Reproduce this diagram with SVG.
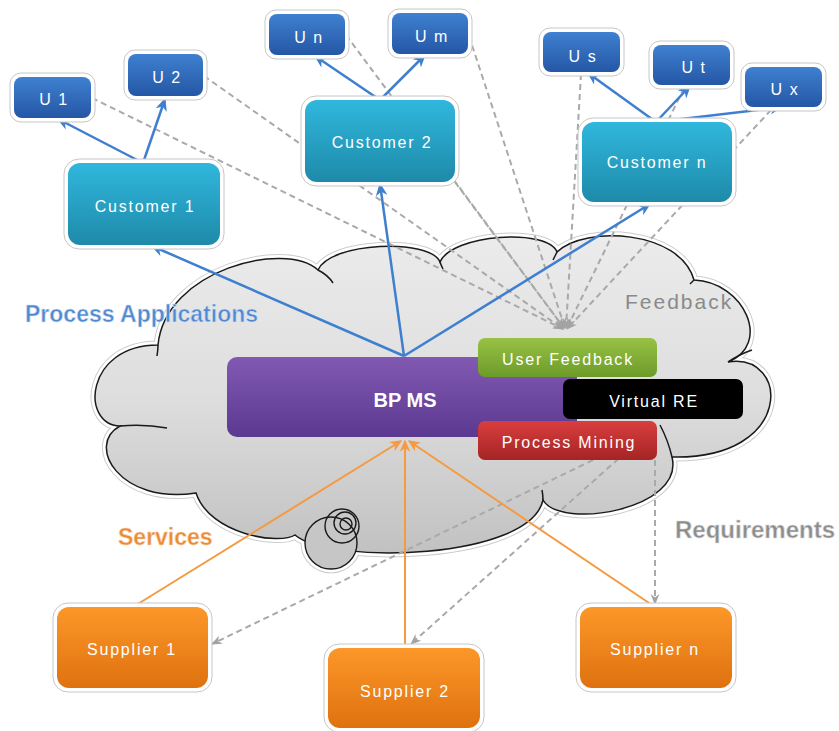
<svg xmlns="http://www.w3.org/2000/svg" width="839" height="731" viewBox="0 0 839 731">
  <style>
    .halo { fill: #ffffff; stroke: #c6c6c6; stroke-width: 1; }
    .lbl { font-family: "Liberation Sans", Arial, sans-serif; fill: #ffffff; font-size: 16px; letter-spacing: 1.8px; text-anchor: middle; }
    .ulbl { font-family: "Liberation Sans", Arial, sans-serif; fill: #ffffff; font-size: 16px; letter-spacing: 1.6px; text-anchor: middle; }
    .blue { stroke: #3f7fcf; stroke-width: 2.5; fill: none; marker-end: url(#arrowBlue); }
    .orange { stroke: #f59a40; stroke-width: 2; fill: none; marker-end: url(#arrowOrange); }
    .fb { stroke: #a9a9a9; stroke-width: 2; stroke-dasharray: 6 4; fill: none; marker-end: url(#arrowGray); }
    .req { stroke: #a9a9a9; stroke-width: 2; stroke-dasharray: 6 4; fill: none; marker-end: url(#arrowGray); }
    .cloudline { fill: none; stroke: #1a1a1a; stroke-width: 1.5; }
  </style>
  <defs>
    <linearGradient id="gU" x1="0" y1="0" x2="0" y2="1"><stop offset="0" stop-color="#3f80d0"/><stop offset="1" stop-color="#2457a5"/></linearGradient>
    <linearGradient id="gC" x1="0" y1="0" x2="0" y2="1"><stop offset="0" stop-color="#30b7dd"/><stop offset="1" stop-color="#1e8aa9"/></linearGradient>
    <linearGradient id="gP" x1="0" y1="0" x2="0" y2="1"><stop offset="0" stop-color="#8259b2"/><stop offset="1" stop-color="#5b3991"/></linearGradient>
    <linearGradient id="gG" x1="0" y1="0" x2="0" y2="1"><stop offset="0" stop-color="#97c245"/><stop offset="1" stop-color="#6d9b29"/></linearGradient>
    <linearGradient id="gR" x1="0" y1="0" x2="0" y2="1"><stop offset="0" stop-color="#d93e3e"/><stop offset="1" stop-color="#a52424"/></linearGradient>
    <linearGradient id="gO" x1="0" y1="0" x2="0" y2="1"><stop offset="0" stop-color="#fc9729"/><stop offset="1" stop-color="#df720f"/></linearGradient>
    <linearGradient id="gCloud" gradientUnits="userSpaceOnUse" x1="0" y1="230" x2="0" y2="560"><stop offset="0" stop-color="#ececec"/><stop offset="0.5" stop-color="#dedede"/><stop offset="1" stop-color="#c0c0c0"/></linearGradient>
    <path id="cloudPath" d="M158,345 C165,270 285,240 318,270 C330,242 430,238 440,262 C452,234 548,228 557,252 C585,225 680,230 694,280 C745,282 772,345 728,362 C790,352 795,460 672,457 C685,510 560,530 543,500 C530,560 330,565 295,535 C280,545 210,535 196,493 C120,505 85,445 120,426 C80,425 85,345 158,345 Z"/>
    <marker id="arrowBlue" markerUnits="userSpaceOnUse" markerWidth="13" markerHeight="13" viewBox="0 0 10 10" refX="9" refY="5" orient="auto">
      <path d="M0,0.5 L10,5 L0,9.5 L3,5 Z" fill="#3f7fcf"/>
    </marker>
    <marker id="arrowOrange" markerUnits="userSpaceOnUse" markerWidth="12" markerHeight="12" viewBox="0 0 10 10" refX="9" refY="5" orient="auto">
      <path d="M0,0.5 L10,5 L0,9.5 L3,5 Z" fill="#f59a40"/>
    </marker>
    <marker id="arrowGray" markerUnits="userSpaceOnUse" markerWidth="11" markerHeight="11" viewBox="0 0 10 10" refX="9" refY="5" orient="auto">
      <path d="M0,1 L10,5 L0,9 L3,5 Z" fill="#a3a3a3"/>
    </marker>
  </defs>

  <rect width="839" height="731" fill="#ffffff"/>

  <!-- cloud backdrop -->
  <g id="cloud">
    <use href="#cloudPath" fill="none" stroke="#cccccc" stroke-width="9" stroke-linejoin="round"/>
    <circle cx="331" cy="543" r="26" fill="none" stroke="#cccccc" stroke-width="9"/>
    <use href="#cloudPath" fill="#ffffff" stroke="#ffffff" stroke-width="7" stroke-linejoin="round"/>
    <circle cx="331" cy="543" r="26" fill="#ffffff" stroke="#ffffff" stroke-width="7"/>
    <use href="#cloudPath" fill="url(#gCloud)" stroke="#1a1a1a" stroke-width="1.5"/>
    <!-- small inner tails where the lobes meet -->
    <path class="cloudline" d="M318,270 Q328,275 333,283"/>
    <path class="cloudline" d="M440,262 Q441,265 443,269"/>
    <path class="cloudline" d="M557,252 Q555,256 553,260"/>
    <path class="cloudline" d="M694,280 Q692,282 690,284"/>
    <path class="cloudline" d="M728,362 Q740,354 752,350"/>
    <path class="cloudline" d="M543,500 Q543,495 542,490"/>
    <path class="cloudline" d="M120,426 Q145,424 167,428"/>
    <path class="cloudline" d="M158,345 Q158,350 157,356"/>
    <path class="cloudline" d="M672,457 Q668,440 660,425"/>
    <!-- thought bubbles -->
    <circle cx="331" cy="543" r="26" fill="#c6c6c6" stroke="#1a1a1a" stroke-width="1.4"/>
    <circle cx="342" cy="526" r="17" fill="none" stroke="#1a1a1a" stroke-width="1.4"/>
    <circle cx="345" cy="523" r="11" fill="none" stroke="#1a1a1a" stroke-width="1.4"/>
    <circle cx="346" cy="524" r="6" fill="none" stroke="#1a1a1a" stroke-width="1.4"/>
  </g>

  <!-- section captions -->
  <g id="captions" font-family="'Liberation Sans', Arial, sans-serif">
    <text x="25" y="322" font-size="23" font-weight="bold" fill="#5088d0" stroke="#d6e3f3" stroke-width="0.6">Process Applications</text>
    <text x="625" y="309" font-size="21" letter-spacing="2" fill="#8a8a8a">Feedback</text>
    <text x="118" y="545" font-size="23" font-weight="bold" fill="#ea8a35" stroke="#f8d9bd" stroke-width="0.6">Services</text>
    <text x="675" y="538" font-size="24" font-weight="bold" fill="#8c8c8c" stroke="#dddddd" stroke-width="0.6">Requirements</text>
  </g>

  <!-- connectors -->
  <g id="connectors">
    <!-- feedback from users and customers into the feedback point -->
    <line class="fb" x1="92" y1="98" x2="563" y2="329"/>
    <line class="fb" x1="204" y1="76" x2="563" y2="329"/>
    <line class="fb" x1="346" y1="35" x2="564" y2="328"/>
    <line class="fb" x1="469" y1="36" x2="565" y2="328"/>
    <line class="fb" x1="455" y1="182" x2="564" y2="328"/>
    <line class="fb" x1="581" y1="74" x2="566" y2="328"/>
    <line class="fb" x1="684" y1="88" x2="567" y2="328"/>
    <line class="fb" x1="771" y1="110" x2="567" y2="329"/>
    <!-- requirements out to suppliers -->
    <line class="req" x1="620" y1="447" x2="212" y2="644"/>
    <line class="req" x1="626" y1="452" x2="411" y2="644"/>
    <line class="req" x1="655" y1="460" x2="655" y2="604"/>
    <!-- customers to users -->
    <line class="blue" x1="143" y1="163" x2="58" y2="119"/>
    <line class="blue" x1="143" y1="163" x2="165" y2="99"/>
    <line class="blue" x1="380" y1="100" x2="315" y2="56"/>
    <line class="blue" x1="380" y1="100" x2="425" y2="55"/>
    <line class="blue" x1="656" y1="122" x2="588" y2="73"/>
    <line class="blue" x1="656" y1="122" x2="690" y2="86"/>
    <line class="blue" x1="656" y1="122" x2="782" y2="107"/>
    <!-- BPMS to customers -->
    <line class="blue" x1="404" y1="356" x2="152" y2="246"/>
    <line class="blue" x1="404" y1="356" x2="380" y2="184"/>
    <line class="blue" x1="404" y1="356" x2="650" y2="204"/>
    <!-- suppliers to BPMS -->
    <line class="orange" x1="133" y1="607" x2="401" y2="441"/>
    <line class="orange" x1="405" y1="648" x2="405" y2="441"/>
    <line class="orange" x1="655" y1="607" x2="409" y2="441"/>
  </g>

  <!-- users -->
  <g id="u1"><rect class="halo" x="10" y="73" width="85" height="49" rx="11"/><rect x="14" y="77" width="77" height="41" rx="8" fill="url(#gU)"/><text class="ulbl" x="54" y="105">U 1</text></g>
  <g id="u2"><rect class="halo" x="124" y="50" width="83" height="50" rx="11"/><rect x="128" y="54" width="75" height="42" rx="8" fill="url(#gU)"/><text class="ulbl" x="167" y="83">U 2</text></g>
  <g id="un"><rect class="halo" x="265" y="10" width="84" height="49" rx="11"/><rect x="269" y="14" width="76" height="41" rx="8" fill="url(#gU)"/><text class="ulbl" x="309" y="43">U n</text></g>
  <g id="um"><rect class="halo" x="388" y="9" width="84" height="49" rx="11"/><rect x="392" y="13" width="76" height="41" rx="8" fill="url(#gU)"/><text class="ulbl" x="432" y="42">U m</text></g>
  <g id="us"><rect class="halo" x="539" y="28" width="85" height="48" rx="11"/><rect x="543" y="32" width="77" height="40" rx="8" fill="url(#gU)"/><text class="ulbl" x="583" y="62">U s</text></g>
  <g id="ut"><rect class="halo" x="649" y="41" width="85" height="48" rx="11"/><rect x="653" y="45" width="77" height="40" rx="8" fill="url(#gU)"/><text class="ulbl" x="694" y="73">U t</text></g>
  <g id="ux"><rect class="halo" x="741" y="63" width="85" height="48" rx="11"/><rect x="745" y="67" width="77" height="40" rx="8" fill="url(#gU)"/><text class="ulbl" x="785" y="95">U x</text></g>

  <!-- customers -->
  <g id="customer1"><rect class="halo" x="64" y="159" width="160" height="90" rx="15"/><rect x="68" y="163" width="152" height="82" rx="12" fill="url(#gC)"/><text class="lbl" x="145" y="212">Customer 1</text></g>
  <g id="customer2"><rect class="halo" x="301" y="96" width="158" height="90" rx="15"/><rect x="305" y="100" width="150" height="82" rx="12" fill="url(#gC)"/><text class="lbl" x="382" y="148">Customer 2</text></g>
  <g id="customern"><rect class="halo" x="578" y="118" width="158" height="88" rx="15"/><rect x="582" y="122" width="150" height="80" rx="12" fill="url(#gC)"/><text class="lbl" x="657" y="168">Customer n</text></g>

  <!-- platform -->
  <g id="bpms"><rect x="227" y="357" width="350" height="80" rx="10" fill="url(#gP)"/><text x="405" y="407" font-family="'Liberation Sans', Arial, sans-serif" font-size="20" font-weight="bold" fill="#ffffff" text-anchor="middle">BP MS</text></g>
  <g id="userFeedback"><rect x="478" y="338" width="179" height="39" rx="7" fill="url(#gG)"/><text class="lbl" x="568" y="365">User Feedback</text></g>
  <g id="virtualRE"><rect x="563" y="379" width="180" height="40" rx="7" fill="#000000"/><text class="lbl" x="654" y="407">Virtual RE</text></g>
  <g id="processMining"><rect x="478" y="421" width="179" height="39" rx="7" fill="url(#gR)"/><text class="lbl" x="569" y="448">Process Mining</text></g>

  <!-- suppliers -->
  <g id="supplier1"><rect class="halo" x="53" y="603" width="159" height="89" rx="15"/><rect x="57" y="607" width="151" height="81" rx="12" fill="url(#gO)"/><text class="lbl" x="132" y="655">Supplier 1</text></g>
  <g id="supplier2"><rect class="halo" x="324" y="644" width="160" height="88" rx="15"/><rect x="328" y="648" width="152" height="80" rx="12" fill="url(#gO)"/><text class="lbl" x="405" y="697">Supplier 2</text></g>
  <g id="suppliern"><rect class="halo" x="576" y="603" width="160" height="89" rx="15"/><rect x="580" y="607" width="152" height="81" rx="12" fill="url(#gO)"/><text class="lbl" x="655" y="655">Supplier n</text></g>
</svg>
